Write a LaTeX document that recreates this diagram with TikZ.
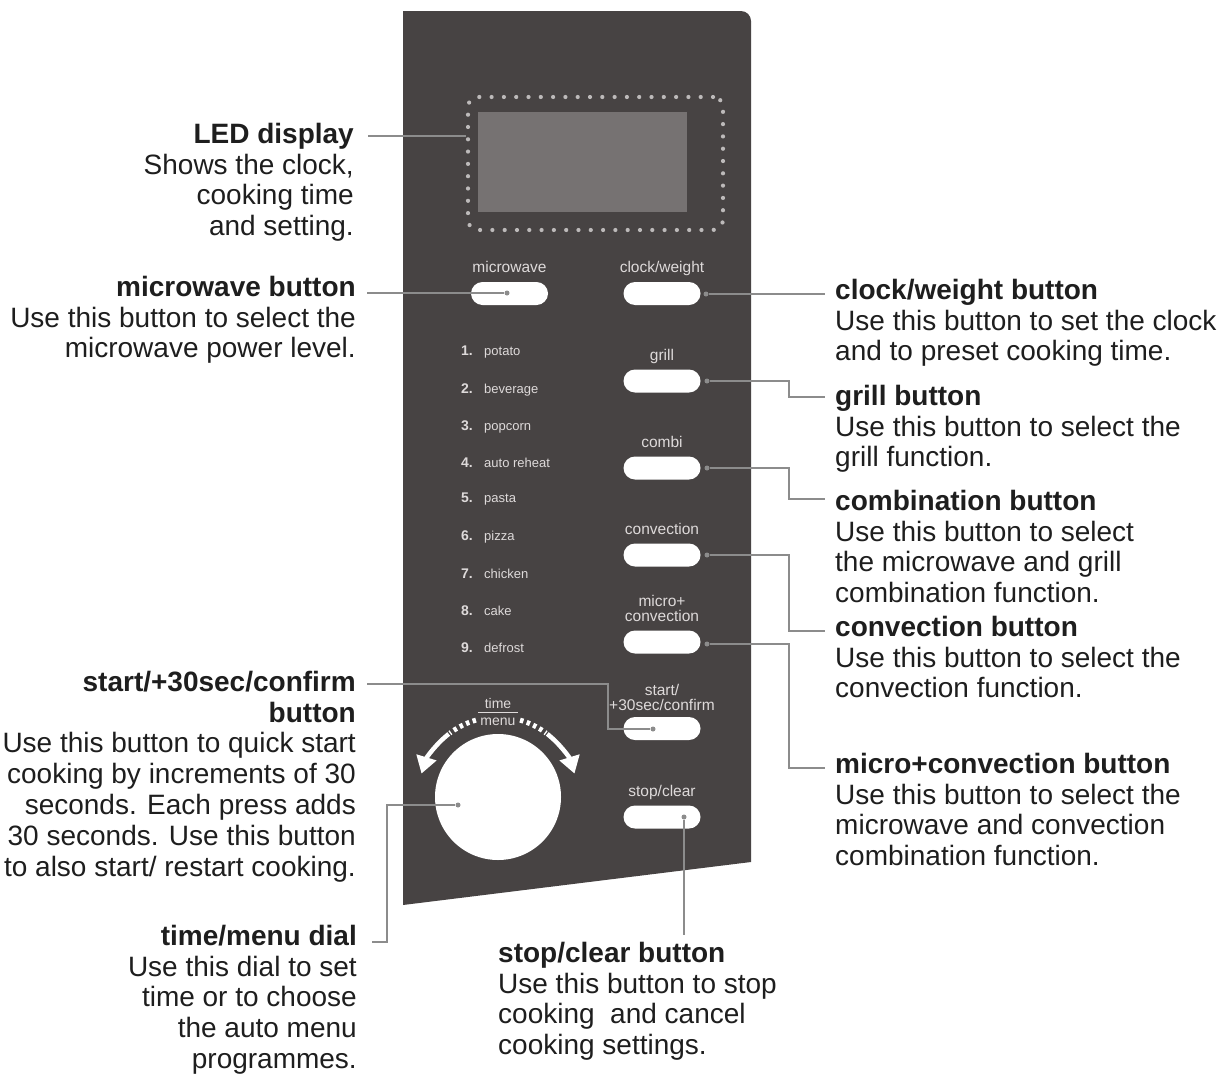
\documentclass[tikz,border=0pt]{standalone}
\usepackage{fontspec}
\setmainfont{Liberation Sans}
\usetikzlibrary{arrows.meta}
\definecolor{panel}{HTML}{474343}
\definecolor{screen}{HTML}{767272}
\definecolor{dotc}{HTML}{BDBABA}
\definecolor{linec}{HTML}{8C8C8C}
\definecolor{txt}{HTML}{1E1E1E}
\definecolor{ptxt}{HTML}{DEDADA}
\begin{document}
\begin{tikzpicture}[x=1pt,y=-1pt,
  callL/.style={anchor=north east, align=right, inner sep=0pt, text=txt, font=\fontsize{28}{30.8}\selectfont},
  callR/.style={anchor=north west, align=left, inner sep=0pt, text=txt, font=\fontsize{28}{30.8}\selectfont},
  pill/.style={fill=white, rounded corners=11.5pt, minimum width=77pt, minimum height=23pt, inner sep=0pt},
  plabel/.style={anchor=base, inner sep=0pt, text=ptxt, font=\fontsize{15.5}{15.5}\selectfont},
  numlab/.style={anchor=base west, inner sep=0pt, text=ptxt, font=\fontsize{14}{14}\selectfont\bfseries},
  itemlab/.style={anchor=base west, inner sep=0pt, text=ptxt, font=\fontsize{13}{13}\selectfont},
  cdot/.style={circle, fill=linec, inner sep=0pt, minimum size=5pt},
  conn/.style={draw=linec, line width=1.6pt},
  dotframe/.style={draw=dotc, line width=4.2pt, line cap=round, dash pattern=on 0pt off 12.3pt, rounded corners=10pt, minimum width=255pt, minimum height=133pt, inner sep=0pt},
  swoosh/.style={draw=white, line width=4.5pt},
  swooshdash/.style={draw=white, line width=5pt, dash pattern=on 3.5pt off 3.5pt}
]
\useasboundingbox (0,0) rectangle (1218,1076);
\fill[white] (0,0) rectangle (1218,1076);

% panel
\fill[panel] (403,905) -- (403,11) -- (741,11) .. controls (746.5,11) and (751,15.5) .. (751,21) -- (751,862) -- cycle;

% display
\node[dotframe] (led) at (595.5,163.5) {};
\fill[screen] (478,112) rectangle (687,212);

% buttons
\node[pill] (bmw) at (509.5,293.5) {};
\node[pill] (bclock) at (662,293.5) {};
\node[pill] (bgrill) at (662,381) {};
\node[pill] (bcombi) at (662,468) {};
\node[pill] (bconv) at (662,555) {};
\node[pill] (bmc) at (662,642) {};
\node[pill] (bstart) at (662,728.5) {};
\node[pill] (bstop) at (662,817) {};

% button labels
\node[plabel] (lmw) at (509.5,272.5) {microwave};
\node[plabel] (lclock) at (662,272.5) {clock/weight};
\node[plabel] (lgrill) at (662,360) {grill};
\node[plabel] (lcombi) at (662,447.5) {combi};
\node[plabel] (lconv) at (662,534.5) {convection};
\node[plabel] (lmc1) at (662,606.5) {micro+};
\node[plabel] (lmc2) at (662,621.5) {convection};
\node[plabel] (lst1) at (662,695.5) {start/};
\node[plabel] (lst2) at (662,710) {+30sec/confirm};
\node[plabel] (lstop) at (662,796) {stop/clear};

% auto menu list
\node[numlab] (n1) at (461,355) {1.};
\node[itemlab] (t1) at (484,355) {potato};
\node[numlab] (n2) at (461,393) {2.};
\node[itemlab] (t2) at (484,393) {beverage};
\node[numlab] (n3) at (461,430) {3.};
\node[itemlab] (t3) at (484,430) {popcorn};
\node[numlab] (n4) at (461,467) {4.};
\node[itemlab] (t4) at (484,467) {auto reheat};
\node[numlab] (n5) at (461,502) {5.};
\node[itemlab] (t5) at (484,502) {pasta};
\node[numlab] (n6) at (461,540) {6.};
\node[itemlab] (t6) at (484,540) {pizza};
\node[numlab] (n7) at (461,578) {7.};
\node[itemlab] (t7) at (484,578) {chicken};
\node[numlab] (n8) at (461,615) {8.};
\node[itemlab] (t8) at (484,615) {cake};
\node[numlab] (n9) at (461,652) {9.};
\node[itemlab] (t9) at (484,652) {defrost};

% dial
\node[circle, fill=white, minimum size=126pt, inner sep=0pt] (dial) at (498,797) {};
\node[anchor=base, inner sep=0pt, text=ptxt, font=\fontsize{14}{14}\selectfont] (dtime) at (498,708) {time};
\node[anchor=base, inner sep=0pt, text=ptxt, font=\fontsize{14}{14}\selectfont] (dmenu) at (498,725) {menu};
\draw[ptxt, line width=1.4pt] (478,712.5) -- (518,712.5);
\begin{scope}[shift={(498,797)}, yscale=-1]
  \draw[swooshdash] (106:80) arc[start angle=106, end angle=127, radius=80];
  \draw[swoosh, -{Triangle[length=17pt, width=20pt]}] (128:80) arc[start angle=128, end angle=163, radius=80];
  \draw[swooshdash] (74:80) arc[start angle=74, end angle=53, radius=80];
  \draw[swoosh, -{Triangle[length=17pt, width=20pt]}] (52:80) arc[start angle=52, end angle=17, radius=80];
\end{scope}

% connector dots
\node[cdot] (dmw) at (507,293) {};
\node[cdot] (dclock) at (706,294) {};
\node[cdot] (dgrill) at (707,381) {};
\node[cdot] (dcombi) at (707,468) {};
\node[cdot] (dconv) at (707,555) {};
\node[cdot] (dmc) at (707,644) {};
\node[cdot] (dstart) at (653,729) {};
\node[cdot] (dstop) at (684,817) {};
\node[cdot] (ddial) at (458,805) {};

% callout texts
\node[callL] (tled) at (354,121) {\rule{0pt}{22pt}\textbf{LED display}\\Shows the clock,\\cooking time\\and setting.};
\node[callL] (tmw) at (356,274) {\rule{0pt}{22pt}\textbf{microwave button}\\Use this button to select the\\microwave power level.};
\node[callL] (tstart) at (356,669) {\rule{0pt}{22pt}\textbf{start/+30sec/confirm}\\\textbf{button}\\Use this button to quick start\\cooking by increments of 30\\seconds. Each press adds\\30 seconds. Use this button\\to also start/ restart cooking.};
\node[callL] (tdial) at (357,923) {\rule{0pt}{22pt}\textbf{time/menu dial}\\Use this dial to set\\time or to choose\\the auto menu\\programmes.};
\node[callR] (tclock) at (835,277) {\rule{0pt}{22pt}\textbf{clock/weight button}\\Use this button to set the clock\\and to preset cooking time.};
\node[callR] (tgrill) at (835,383) {\rule{0pt}{22pt}\textbf{grill button}\\Use this button to select the\\grill function.};
\node[callR] (tcombi) at (835,488) {\rule{0pt}{22pt}\textbf{combination button}\\Use this button to select\\the microwave and grill\\combination function.};
\node[callR] (tconv) at (835,614) {\rule{0pt}{22pt}\textbf{convection button}\\Use this button to select the\\convection function.};
\node[callR] (tmc) at (835,751) {\rule{0pt}{22pt}\textbf{micro+convection button}\\Use this button to select the\\microwave and convection\\combination function.};
\node[callR] (tstop) at (498,940) {\rule{0pt}{22pt}\textbf{stop/clear button}\\Use this button to stop\\cooking\ \ and cancel\\cooking settings.};

% connector free ends
\coordinate (cled) at (368,136);
\coordinate (cmw) at (367,293);
\coordinate (cstart) at (367,684);
\coordinate (cdial) at (372,942);
\coordinate (cclock) at (825,294);
\coordinate (cgrill) at (825,397);
\coordinate (ccombi) at (825,499);
\coordinate (cconv) at (825,631);
\coordinate (cmc) at (825,768);
\coordinate (cstop) at (684,935);

% connectors
\draw[conn] (cled) -- (cled -| led.west);
\draw[conn] (cmw) -- (dmw);
\draw[conn] (cstart) -| (608,729) -- (dstart);
\draw[conn] (cdial) -- (387,942) |- (ddial);
\draw[conn] (dclock) -- (cclock);
\draw[conn] (dgrill) -- (789,381) |- (cgrill);
\draw[conn] (dcombi) -- (789,468) |- (ccombi);
\draw[conn] (dconv) -- (789,555) |- (cconv);
\draw[conn] (dmc) -- (789,644) |- (cmc);
\draw[conn] (dstop) -- (cstop);
\end{tikzpicture}
\end{document}
